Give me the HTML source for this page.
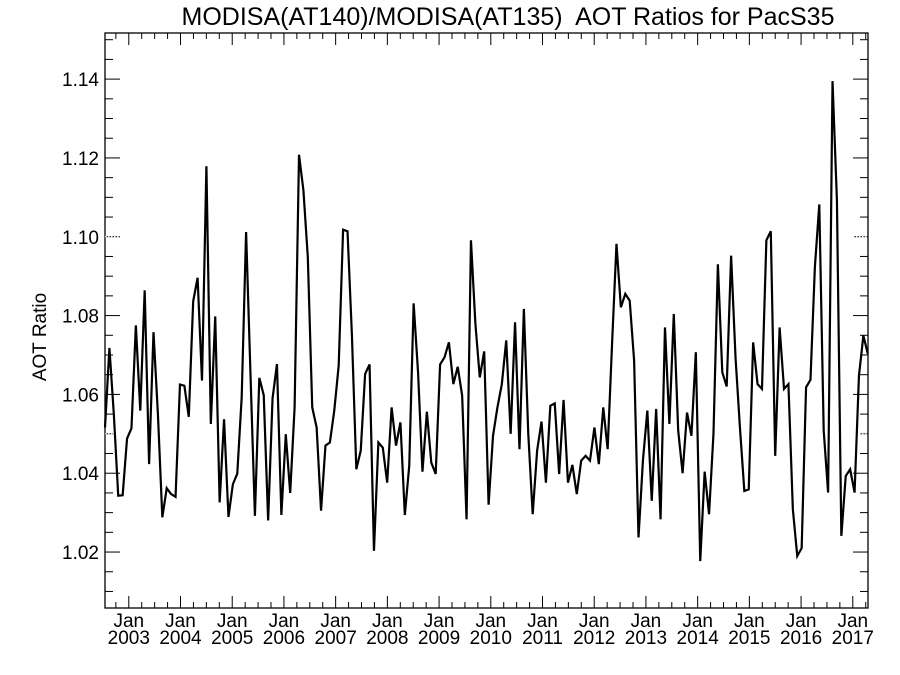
<!DOCTYPE html>
<html><head><meta charset="utf-8"><style>
html,body{margin:0;padding:0;background:#fff;}
svg{display:block;font-family:"Liberation Sans",Arial,sans-serif;}
</style></head><body>
<svg id="chart" width="900" height="675" viewBox="0 0 900 675" xmlns="http://www.w3.org/2000/svg">
<rect x="0" y="0" width="900" height="675" fill="#fff"/>
<text x="508" y="25" text-anchor="middle" font-size="25" fill="#000" xml:space="preserve" style="white-space:pre">MODISA(AT140)/MODISA(AT135)  AOT Ratios for PacS35</text>
<text transform="translate(46,337) rotate(-90)" text-anchor="middle" font-size="19" fill="#000">AOT Ratio</text>
<g id="axes"></g>
<g id="series"></g>
</svg>
<script>
const yTickValues = [1.02, 1.04, 1.06, 1.08, 1.10, 1.12, 1.14];
const yTickLabels = ["1.02", "1.04", "1.06", "1.08", "1.10", "1.12", "1.14"];
const xTickYears = [2003, 2004, 2005, 2006, 2007, 2008, 2009, 2010, 2011, 2012, 2013, 2014, 2015, 2016, 2017];
const seriesStart = 2002.54;
const seriesEnd = 2017.29;
const ratioValues = [
1.0516,1.0718,1.055,1.0343,1.0344,1.0488,1.0514,1.0775,1.0559,1.0864,1.0423,1.0758,1.055,1.0288,1.0362,1.0347,1.0340,1.0625,1.0622,1.0543,1.0836,1.0896,1.0635,1.1179,1.0525,1.0798,1.0326,1.0537,1.0289,1.0372,1.0399,
1.0593,1.1012,1.065,1.0292,1.0642,1.0598,1.028,1.059,1.0677,1.0294,1.0499,1.035,1.0567,1.1208,1.1118,1.0948,1.0567,1.0516,1.0305,1.047,1.0478,1.0559,1.0673,1.1018,1.1014,1.075,1.041,1.0457,1.0652,
1.0676,1.0203,1.0478,1.0465,1.0376,1.0567,1.047,1.0529,1.0294,1.0419,1.0831,1.0656,1.0404,1.0556,1.0427,1.0398,1.0676,1.0694,1.0732,1.0626,1.0670,1.0597,1.0283,1.0991,1.078,1.0643,1.0709,1.032,1.0495,1.0567,
1.0626,1.0737,1.05,1.0783,1.0461,1.0817,1.05,1.0296,1.0457,1.0531,1.0376,1.0571,1.0577,1.0398,1.0586,1.0376,1.0421,1.0347,1.0432,1.0444,1.0432,1.0516,1.0423,1.0567,1.0461,1.0728,1.0982,1.0821,1.0855,1.0838,
1.0686,1.0237,1.0432,1.0559,1.033,1.0563,1.0283,1.077,1.0525,1.0804,1.0508,1.0400,1.0554,1.0495,1.0707,1.0177,1.0404,1.0296,1.05,1.093,1.0656,1.062,1.0952,1.0694,1.0516,1.0355,1.0359,1.0732,1.0626,1.0614,
1.0991,1.1014,1.0444,1.077,1.0614,1.0626,1.0309,1.019,1.021,1.0618,1.0637,1.0923,1.1082,1.0508,1.0351,1.1395,1.1092,1.0241,1.0393,1.041,1.0351,1.0648,1.0749,1.0703
];

const NS = "http://www.w3.org/2000/svg";
const L = 105, R = 868, T = 33, B = 608;
const yMin = 1.0058, yMax = 1.1517;
const xMin = 2002.54, xMax = 2017.294;
function xs(v){ return L + (v - xMin) / (xMax - xMin) * (R - L); }
function ys(v){ return B - (v - yMin) / (yMax - yMin) * (B - T); }
function mk(tag, attrs, parent){
  const el = document.createElementNS(NS, tag);
  for (const k in attrs) el.setAttribute(k, attrs[k]);
  parent.appendChild(el);
  return el;
}
const axes = document.getElementById('axes');
const frame = mk('rect', {x:L, y:T, width:R-L, height:B-T, fill:'none', stroke:'#000', 'stroke-width':1.3}, axes);



for (let v = 1.01; v <= 1.1501; v += 0.005) {
  const y = ys(v);
  if (y < T || y > B) continue;
  const isMajor = Math.abs(Math.round(v*100)/100 - v) < 1e-6 && Math.round(v*100) % 2 === 0;
  const len = isMajor ? 15 : 8;
  const t1 = mk('line', {x1:L, x2:L+len, y1:y, y2:y, stroke:'#000', 'stroke-width':1}, axes);
  
  
  const t2 = mk('line', {x1:R, x2:R-len, y1:y, y2:y, stroke:'#000', 'stroke-width':1}, axes);
  
  
}
yTickValues.forEach((v, i) => {
  const tx = mk('text', {x:L-6, y:ys(v)+7, 'text-anchor':'end', 'font-size':19, fill:'#000'}, axes);
  tx.textContent = yTickLabels[i];
  
  
});
[1.05, 1.10].forEach(v => {
  const d1 = mk('line', {x1:L, x2:L+15, y1:ys(v), y2:ys(v), stroke:'#fff', 'stroke-width':1.2, 'stroke-dasharray':'1.5,1.5'}, axes);
  
  
  const d2 = mk('line', {x1:R-15, x2:R, y1:ys(v), y2:ys(v), stroke:'#fff', 'stroke-width':1.2, 'stroke-dasharray':'1.5,1.5'}, axes);
  
  
});
for (let q = 2002.5; q <= 2017.5; q += 0.25) {
  const x = xs(q);
  if (x < L || x > R) continue;
  const major = Math.abs(q - Math.round(q)) < 1e-6;
  const len = major ? 12 : 6;
  const b = mk('line', {x1:x, x2:x, y1:B, y2:B-len, stroke:'#000', 'stroke-width':1}, axes);
  
  
  const t = mk('line', {x1:x, x2:x, y1:T, y2:T+len, stroke:'#000', 'stroke-width':1}, axes);
  
  
}
xTickYears.forEach(yr => {
  const x = xs(yr);
  const a = mk('text', {x:x, y:627, 'text-anchor':'middle', 'font-size':19, fill:'#000'}, axes);
  a.textContent = 'Jan';
  
  
  const b = mk('text', {x:x, y:644, 'text-anchor':'middle', 'font-size':19, fill:'#000'}, axes);
  b.textContent = String(yr);
  
  
});
const series = document.getElementById('series');
const n = ratioValues.length;
const pts = ratioValues.map((v, i) => {
  const t = seriesStart + i * (seriesEnd - seriesStart) / (n - 1);
  return xs(t).toFixed(2) + ',' + ys(v).toFixed(2);
}).join(' ');
const line = mk('polyline', {points:pts, fill:'none', stroke:'#000', 'stroke-width':2.2, 'stroke-linejoin':'miter'}, series);


</script>
</body></html>
